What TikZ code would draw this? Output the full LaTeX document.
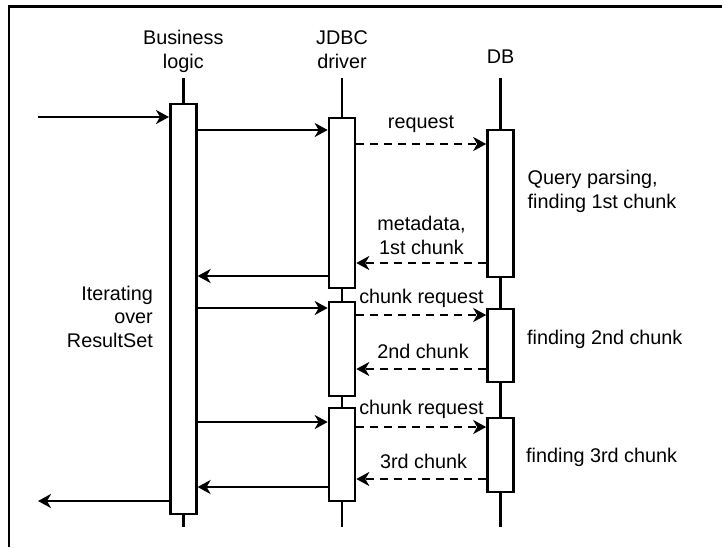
\documentclass[tikz,border=0pt]{standalone}
\usepackage{fontspec}
\setmainfont{Liberation Sans}
\usetikzlibrary{arrows.meta}
\begin{document}
\begin{tikzpicture}[x=1pt,y=-1pt,
    font=\fontsize{19.8}{23.5}\selectfont,
    bar/.style={draw, fill=white, line width=2.6pt, minimum width=26pt, inner sep=0pt},
    life/.style={line width=2.6pt},
    msg/.style={line width=2.6pt, -{Stealth[length=13pt,width=14pt,inset=4pt]}},
    reply/.style={msg, dash pattern=on 8pt off 6pt},
    txt/.style={anchor=base, inner sep=0pt, align=center}]
    \useasboundingbox (0,0) rectangle (722,547);

    \draw[line width=2.3pt] (8.7,547) -- (8.7,6.5) -- (722,6.5);

    \node[txt] (hbl) at (183.3,68) {Business\\logic};
    \node[txt] (hjd) at (342,68) {JDBC\\driver};
    \node[txt] (hdb) at (500.5,63) {DB};

    \draw[life] (183.3,78) -- (183.3,527);
    \draw[life] (342,78) -- (342,527);
    \draw[life] (500.5,78) -- (500.5,527);

    \node[bar, minimum height=410pt] (bl) at (183.3,309) {};
    \node[bar, minimum height=170pt] (jd1) at (342,203) {};
    \node[bar, minimum height=94pt] (jd2) at (342,349) {};
    \node[bar, minimum height=93pt] (jd3) at (342,454.5) {};
    \node[bar, minimum height=147pt] (db1) at (500.5,203.5) {};
    \node[bar, minimum height=73pt] (db2) at (500.5,345.5) {};
    \node[bar, minimum height=74pt] (db3) at (500.5,455) {};

    \coordinate (in) at (38,117);
    \coordinate (out) at (38,501);

    \draw[msg] (in) -- (bl.west |- in);
    \draw[msg] (bl.east |- 0,130) -- (jd1.west |- 0,130);
    \draw[reply] (jd1.east |- 0,144) -- (db1.west |- 0,144);
    \draw[reply] (db1.west |- 0,263) -- (jd1.east |- 0,263);
    \draw[msg] (jd1.west |- 0,276) -- (bl.east |- 0,276);

    \draw[msg] (bl.east |- 0,308) -- (jd2.west |- 0,308);
    \draw[reply] (jd2.east |- 0,315) -- (db2.west |- 0,315);
    \draw[reply] (db2.west |- 0,369) -- (jd2.east |- 0,369);

    \draw[msg] (bl.east |- 0,422) -- (jd3.west |- 0,422);
    \draw[reply] (jd3.east |- 0,427) -- (db3.west |- 0,427);
    \draw[reply] (db3.west |- 0,479) -- (jd3.east |- 0,479);
    \draw[msg] (jd3.west |- 0,487) -- (bl.east |- 0,487);
    \draw[msg] (bl.west |- out) -- (out);

    \node[txt] (lreq) at (421,128) {request};
    \node[txt] (lmeta) at (421.5,254) {metadata,\\1st chunk};
    \node[txt] (lcreq1) at (421.5,303) {chunk request};
    \node[txt] (l2nd) at (423,358) {2nd chunk};
    \node[txt] (lcreq2) at (421.5,414) {chunk request};
    \node[txt] (l3rd) at (423.5,468) {3rd chunk};

    \node[txt, anchor=base west, align=left] (lquery) at (527.5,208) {Query parsing,\\finding 1st chunk};
    \node[txt, anchor=base west] (lfind2) at (527,344) {finding 2nd chunk};
    \node[txt, anchor=base west] (lfind3) at (526,462) {finding 3rd chunk};
    \node[txt, anchor=base east, align=right] (liter) at (153,347) {Iterating\\over\\ResultSet};
\end{tikzpicture}
\end{document}
